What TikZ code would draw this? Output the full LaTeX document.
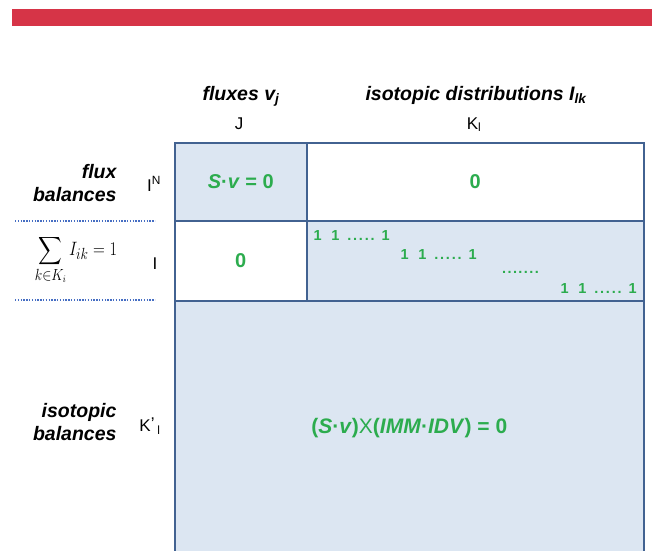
\documentclass[tikz,border=0pt]{standalone}
\usepackage{amsmath}
\usepackage{fontspec}
\setmainfont{Liberation Sans}
\usetikzlibrary{positioning}
\definecolor{barred}{RGB}{214,52,71}
\definecolor{cellblue}{RGB}{220,230,242}
\definecolor{gridblue}{RGB}{66,98,145}
\definecolor{eqgreen}{RGB}{44,172,78}
\definecolor{dotblue}{RGB}{70,110,195}
\tikzset{cell/.style = {draw = gridblue, line width = 1.5pt, anchor = north west,
    inner sep = 0, text = eqgreen, font = \fontsize{20}{22}\selectfont\bfseries}}
\tikzset{head/.style = {font = \fontsize{19.5}{22.7}\selectfont\bfseries\itshape, align = right}}
\tikzset{idx/.style = {font = \fontsize{17}{19}\selectfont}}
\tikzset{ones/.style = {anchor = base west, inner sep = 0, text = eqgreen,
    font = \fontsize{14.5}{16}\selectfont\bfseries}}
\tikzset{sep/.style = {dotblue, line width = 1.8pt, dash pattern = on 1.4pt off 1.4pt}}
\newcommand{\fivedots}{.\kern1.8pt.\kern1.8pt.\kern1.8pt.\kern1.8pt.}
\newcommand{\onesrow}{1\hspace{9.5pt}1\hspace{8pt}\fivedots\hspace{7pt}1}

\begin{document}
\begin{tikzpicture}[x = 1pt, y = -1pt]
    \clip (0, 0) rectangle (652, 550);
    \fill [white] (0, 0) rectangle (652, 550);
    \fill [barred] (12, 9) rectangle (652, 26);

    % column headings
    \node [head, anchor = base] (fluxhead) at (241, 100) {fluxes v\textsubscript{j}};
    \node [head, anchor = base] (isohead) at (476, 100) {isotopic distributions I\textsubscript{lk}};
    \node [idx, anchor = base] (colJ) at (239, 129) {J};
    \node [idx, anchor = base] (colK) at (474, 129) {K\textsubscript{l}};

    % the block matrix
    \node [cell, fill = cellblue, minimum width = 132, minimum height = 78] (sv) at (174, 142)
      {\textit{S}·\textit{v} = 0};
    \node [cell, fill = white, minimum width = 337, minimum height = 78] (zeroA) at (306, 142) {0};
    \node [cell, fill = white, minimum width = 132, minimum height = 80] (zeroB) at (174, 220) {0};
    \node [cell, fill = cellblue, minimum width = 337, minimum height = 80] (sums) at (306, 220) {};
    \node [cell, fill = cellblue, minimum width = 469, minimum height = 254] (isobal) at (174, 300)
      {\fontsize{21}{23}\selectfont(\textit{S}·\textit{v}){\mdseries X}(\textit{IMM}·\textit{IDV}) = 0};

    % rows of ones
    \node [ones] (onesA) at (313.5, 240.5) {\onesrow};
    \node [ones] (onesB) at (400.5, 259) {\onesrow};
    \node [ones] (onesC) at (502, 273) {.\kern1.4pt.\kern1.4pt.\kern1.4pt.\kern1.4pt.\kern1.4pt.\kern1.4pt.};
    \node [ones] (onesD) at (560.5, 293) {\onesrow};

    % row headings
    \node [head, anchor = east] (fluxbal) at (120, 183) {flux\\balances};
    \node [idx] (rowIN) at (154, 184) {I\textsuperscript{N}};
    \node (norm) at (76, 260) {\scalebox{0.95}[1.12]{\fontsize{19}{22}\selectfont$\displaystyle\sum_{k\in K_i} I_{ik} = 1$}};
    \node [idx] (rowI) at (155, 264) {I};
    \node [head, anchor = east] (isobalhead) at (120, 422) {isotopic\\balances};
    \node [idx] (rowK) at (150, 426) {K\raisebox{0.3ex}{’}\,\textsubscript{l}};

    % dotted separators
    \coordinate (sepAl) at (15, 221);
    \coordinate (sepAr) at (155, 221);
    \coordinate (sepBl) at (15, 300);
    \coordinate (sepBr) at (155, 300);
    \draw [sep] (sepAl) -- (sepAr);
    \draw [sep] (sepBl) -- (sepBr);
  \end{tikzpicture}
\end{document}
